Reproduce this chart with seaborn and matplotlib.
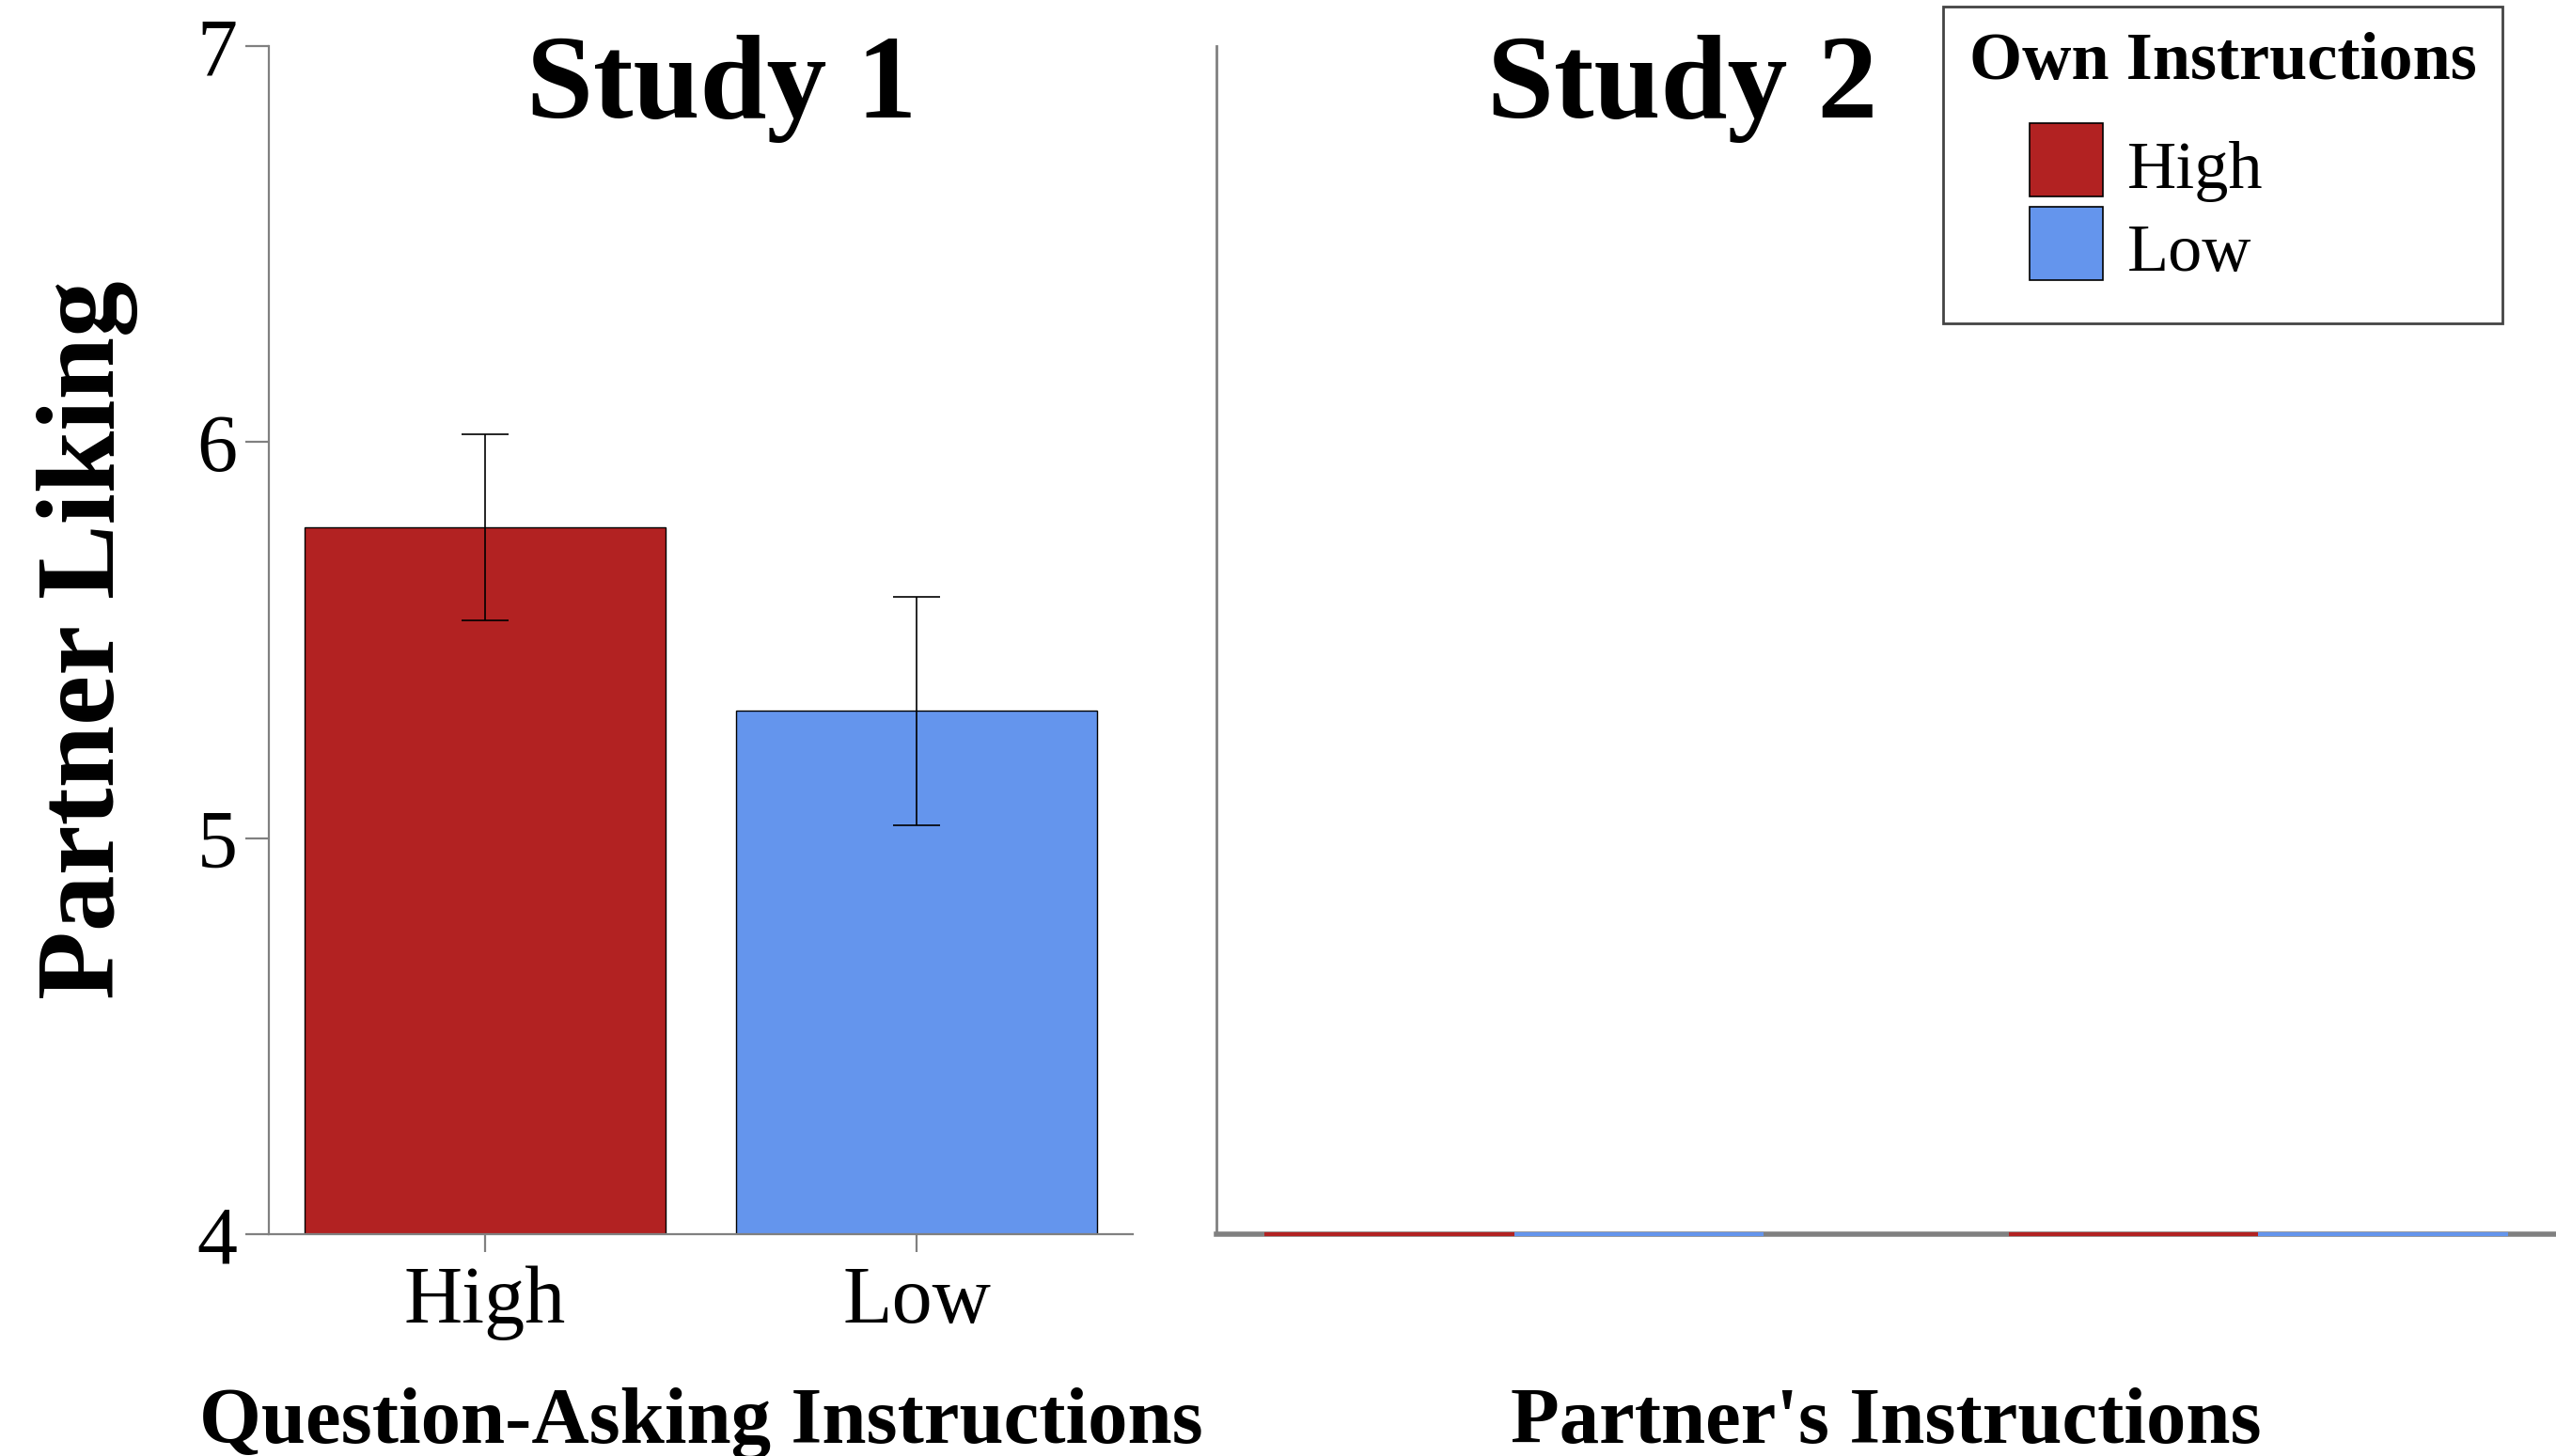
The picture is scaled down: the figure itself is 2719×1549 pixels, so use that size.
import matplotlib.pyplot as plt
import matplotlib.patches as mpatches
from matplotlib.legend_handler import HandlerPatch
import pandas as pd
import seaborn as sns

# Data
levels = ["High", "Low"]
colors = ["#B22222", "#6495ED"]

# Study 1: partner liking by question-asking instructions (mean, SE)
study1_means = [5.785, 5.321]
study1_se = [0.235, 0.288]

# Study 2: partner's instructions x own instructions (bars sit on the axis floor)
study2_partner = ["High", "High", "Low", "Low"]
study2_own = ["High", "Low", "High", "Low"]
study2_means = [4.0, 4.0, 4.0, 4.0]

y_floor = 4
y_ticks = [4, 5, 6, 7]

sns.set_style("white")
plt.rcParams["font.family"] = ["Liberation Serif", "DejaVu Serif"]
plt.rcParams["text.color"] = "black"
plt.rcParams["axes.labelcolor"] = "black"

grey = "#808080"

df1 = pd.DataFrame({"cond": levels, "liking": study1_means, "se": study1_se})
df1["height"] = df1["liking"] - y_floor

df2 = pd.DataFrame({"partner": study2_partner, "own": study2_own, "liking": study2_means})
df2["height"] = df2["liking"] - y_floor

fig = plt.figure(figsize=(27.19, 15.49), dpi=100)
ax1 = fig.add_axes([0.1052, 0.1524, 0.3380, 0.8160])
ax2 = fig.add_axes([0.4759, 0.1524, 0.5241, 0.8160])

# Study 1 panel
sns.barplot(
    data=df1, x="cond", y="height", hue="cond",
    order=levels, hue_order=levels, palette=colors, saturation=1,
    width=0.835, bottom=y_floor, edgecolor="black", linewidth=1.0,
    errorbar=None, legend=False, ax=ax1
)

for patch, mean, se in zip(ax1.patches, df1["liking"], df1["se"]):
    x = patch.get_x() + patch.get_width() / 2
    ax1.errorbar(
        x, mean, yerr=se, fmt="none", ecolor="black",
        elinewidth=1.2, capsize=18, capthick=1.2, zorder=4
    )

ax1.set_xlim(-0.5, 1.5)
ax1.set_ylim(4, 7)
ax1.set_yticks(y_ticks)
ax1.set_yticklabels([str(t) for t in y_ticks])

for side in ["top", "right"]:
    ax1.spines[side].set_visible(False)
for side in ["left", "bottom"]:
    ax1.spines[side].set_color(grey)
    ax1.spines[side].set_linewidth(1.6)

ax1.tick_params(axis="y", direction="out", length=18, width=1.6, color=grey,
                labelcolor="black", labelsize=62, pad=6, left=True)
ax1.tick_params(axis="x", direction="out", length=14, width=1.6, color=grey,
                labelcolor="black", labelsize=62, pad=10, bottom=True)

ax1.set_ylabel("Partner Liking", fontsize=86, fontweight="bold")
ax1.yaxis.set_label_coords(-0.151, 0.5)
ax1.set_xlabel("Question-Asking Instructions", fontsize=61, fontweight="bold",
               va="baseline")
ax1.xaxis.set_label_coords(0.5, -0.1756)

ax1.text(0.524, 0.94, "Study 1", transform=ax1.transAxes, ha="center",
         va="baseline", fontsize=92, fontweight="bold")

# Study 2 panel
sns.barplot(
    data=df2, x="partner", y="height", hue="own",
    order=levels, hue_order=levels, palette=colors, saturation=1,
    width=0.67, bottom=y_floor, linewidth=3,
    errorbar=None, legend=False, clip_on=False, zorder=3, ax=ax2
)
for patch in ax2.patches:
    patch.set_edgecolor(patch.get_facecolor())

ax2.set_xlim(-0.4, 1.4)
ax2.set_ylim(4, 7)
ax2.set_xticks([])
ax2.set_yticks([])

for side in ["top", "right"]:
    ax2.spines[side].set_visible(False)
ax2.spines["left"].set_color(grey)
ax2.spines["left"].set_linewidth(2)
ax2.spines["bottom"].set_color(grey)
ax2.spines["bottom"].set_linewidth(4)

ax2.set_ylabel("")
ax2.set_xlabel("Partner's Instructions", fontsize=61, fontweight="bold",
               va="baseline")
ax2.xaxis.set_label_coords(0.5, -0.1756)

ax2.text(0.348, 0.94, "Study 2", transform=ax2.transAxes, ha="center",
         va="baseline", fontsize=92, fontweight="bold")


# Legend with indented square swatches
def square_patch(legend, orig_handle, xdescent, ydescent, width, height, fontsize):
    side = height + ydescent
    return mpatches.Rectangle((width - side - xdescent, -ydescent), side, side)


handles = [
    mpatches.Patch(facecolor=c, edgecolor="black", linewidth=1.2, label=l)
    for c, l in zip(colors, levels)
]

leg = fig.legend(
    handles=handles, title="Own Instructions",
    loc="upper right", bbox_to_anchor=(0.979, 0.9955), borderaxespad=0,
    fontsize=52, title_fontproperties={"weight": "bold", "size": 52},
    frameon=True, fancybox=False, framealpha=1, edgecolor="#444444",
    handlelength=1.78, handleheight=1.08, labelspacing=0.2,
    handletextpad=0.36, borderpad=0.38, alignment="left",
    handler_map={mpatches.Patch: HandlerPatch(patch_func=square_patch)}
)
leg.get_frame().set_linewidth(2)
# more room around the entries block
leg._legend_box.sep = 20
leg._legend_handle_box.pad = 10

plt.savefig("out.png", dpi=100)
plt.close()
